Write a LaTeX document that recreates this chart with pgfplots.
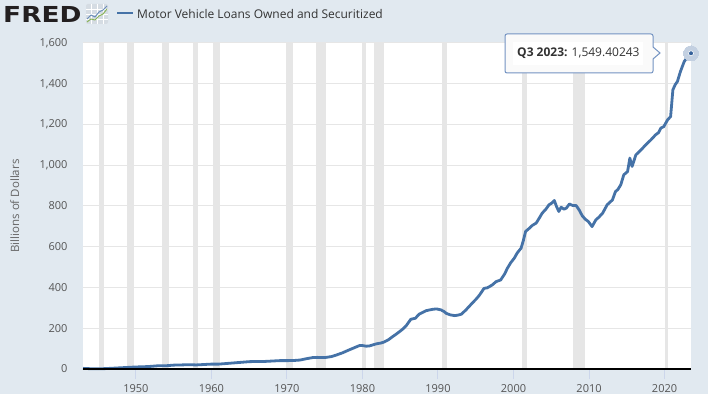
\documentclass[border=0pt]{standalone}
\usepackage{pgfplots}
\pgfplotsset{compat=1.18}
\usepackage{fontspec}
\setmainfont{Open Sans}
\newfontfamily\logofont{DejaVu Sans}
\definecolor{bgc}{HTML}{E1E9F0}
\definecolor{fredblue}{HTML}{4572A7}
\definecolor{recg}{HTML}{E6E6E6}
\definecolor{gridc}{HTML}{E6E6E6}
\definecolor{tickc}{HTML}{CCD6EB}
\definecolor{txt}{HTML}{333333}
\definecolor{lab}{HTML}{555555}
\definecolor{ylab}{HTML}{666666}
\definecolor{haloc}{HTML}{C3D0E1}
\definecolor{dotc}{HTML}{34609A}
\definecolor{tipb}{HTML}{7393C2}
\definecolor{logoc}{HTML}{231F20}
\definecolor{icong}{HTML}{8AB45A}
\definecolor{iconbg}{HTML}{D5DCE3}

\pgfplotstableread{
x y
1943.0 3
1944.0 1.5
1945.0 1
1946.0 2
1947.0 4
1948.0 6
1949.0 8
1950.0 10
1951.0 11
1952.0 13
1953.0 16
1954.0 16
1955.0 19
1956.0 20
1957.0 21
1958.0 20
1959.0 22
1960.0 24
1961.0 24
1962.0 27
1963.0 30
1964.0 33
1965.0 36
1966.0 37
1967.0 37
1968.0 39
1969.0 41
1970.0 41
1971.0 42
1971.75 44
1972.5 50
1973.4 56
1974.0 57
1975.0 56
1975.9 61
1976.5 68
1977.4 80
1978.0 90
1978.7 101
1979.6 115
1980.0 115
1980.5 112
1980.9 113
1981.8 123
1982.5 128
1982.9 133
1983.5 145
1984.0 159
1984.5 172
1984.9 183
1985.4 198
1985.8 213
1986.4 244
1987.0 249
1987.5 269
1988.0 278
1988.4 286
1988.9 290
1989.3 293
1989.8 295
1990.4 290
1990.8 282
1991.1 273
1991.6 266
1992.2 262
1992.6 264
1993.1 269
1993.7 290
1994.2 310
1994.6 326
1995.1 345
1995.5 363
1996.1 396
1996.5 398
1996.8 404
1997.2 413
1997.7 429
1998.3 437
1998.8 465
1999.2 495
1999.6 520
2000.1 544
2000.5 570
2001.0 593
2001.3 630
2001.6 675
2002.1 691
2002.5 705
2003.0 716
2003.4 740
2003.8 765
2004.3 785
2004.7 806
2005.1 815
2005.4 827
2005.7 797
2006.0 773
2006.3 794
2006.7 784
2007.0 790
2007.4 810
2007.8 803
2008.3 802
2008.7 780
2009.1 752
2009.5 735
2009.9 724
2010.4 699
2010.9 732
2011.3 745
2011.8 765
2012.4 806
2013.1 830
2013.5 871
2013.8 880
2014.2 904
2014.6 953
2015.1 969
2015.4 1035
2015.7 994
2016.2 1051
2016.9 1076
2017.5 1100
2018.2 1125
2018.8 1149
2019.2 1160
2019.5 1182
2019.9 1190
2020.4 1223
2020.8 1239
2021.1 1370
2021.4 1395
2021.7 1411
2022.1 1460
2022.6 1509
2023.0 1530
2023.5 1549.40243
}\mvdata

\begin{document}
\begin{tikzpicture}[x=1pt,y=1pt]
\fill[bgc] (0,0) rectangle (708,394);
\begin{axis}[
  at={(83pt,25pt)}, anchor=south west,
  scale only axis, width=608pt, height=326pt,
  xmin=1943, xmax=2023.5, ymin=0, ymax=1600,
  axis line style={draw=none},
  axis background/.style={fill=white},
  xtick={1950,1960,...,2020},
  ytick={0,200,...,1600},
  xtick pos=bottom, ytick pos=left,
  xtick align=outside,
  major tick length=10pt,
  xtick style={color=tickc, line width=1pt},
  ytick style={draw=none},
  ymajorgrids, grid style={gridc, line width=1pt},
  tick label style={font=\fontsize{11}{13}\selectfont, color=lab},
  /pgf/number format/assume math mode=true,
  /pgf/number format/1000 sep={,},
  x tick label style={/pgf/number format/1000 sep={}, yshift=-1.5pt},
  yticklabel style={anchor=east, xshift=-12pt},
  ylabel={Billions of Dollars},
  every axis y label/.style={at={(axis description cs:-0.112,0.5)}, rotate=90, anchor=center, font=\fontsize{11.5}{13}\selectfont, text=ylab},
  clip=false,
]
\addplot[fill=recg, draw=none, forget plot] coordinates {(1945.08,0) (1945.08,1600) (1945.75,1600) (1945.75,0)} -- cycle;
\addplot[fill=recg, draw=none, forget plot] coordinates {(1948.83,0) (1948.83,1600) (1949.75,1600) (1949.75,0)} -- cycle;
\addplot[fill=recg, draw=none, forget plot] coordinates {(1953.5,0) (1953.5,1600) (1954.33,1600) (1954.33,0)} -- cycle;
\addplot[fill=recg, draw=none, forget plot] coordinates {(1957.58,0) (1957.58,1600) (1958.25,1600) (1958.25,0)} -- cycle;
\addplot[fill=recg, draw=none, forget plot] coordinates {(1960.25,0) (1960.25,1600) (1961.08,1600) (1961.08,0)} -- cycle;
\addplot[fill=recg, draw=none, forget plot] coordinates {(1969.92,0) (1969.92,1600) (1970.83,1600) (1970.83,0)} -- cycle;
\addplot[fill=recg, draw=none, forget plot] coordinates {(1973.83,0) (1973.83,1600) (1975.17,1600) (1975.17,0)} -- cycle;
\addplot[fill=recg, draw=none, forget plot] coordinates {(1980.0,0) (1980.0,1600) (1980.5,1600) (1980.5,0)} -- cycle;
\addplot[fill=recg, draw=none, forget plot] coordinates {(1981.5,0) (1981.5,1600) (1982.83,1600) (1982.83,0)} -- cycle;
\addplot[fill=recg, draw=none, forget plot] coordinates {(1990.5,0) (1990.5,1600) (1991.17,1600) (1991.17,0)} -- cycle;
\addplot[fill=recg, draw=none, forget plot] coordinates {(2001.17,0) (2001.17,1600) (2001.83,1600) (2001.83,0)} -- cycle;
\addplot[fill=recg, draw=none, forget plot] coordinates {(2007.92,0) (2007.92,1600) (2009.42,1600) (2009.42,0)} -- cycle;
\addplot[fill=recg, draw=none, forget plot] coordinates {(2020.0,0) (2020.0,1600) (2020.4,1600) (2020.4,0)} -- cycle;
\addplot[fredblue, line width=2.8pt, line join=round] table[x=x,y=y] {\mvdata};
\draw[black, line width=2pt] (rel axis cs:0,0) -- (rel axis cs:1,0);
\addplot[only marks, mark=*, mark size=7.5pt, mark options={fill=haloc, draw=haloc, line width=0pt}] coordinates {(2023.5,1549.40243)};
\addplot[only marks, mark=*, mark size=2.5pt, mark options={fill=dotc, draw=white, line width=0.6pt}] coordinates {(2023.5,1549.40243)};
\end{axis}
% tooltip
\draw[tipb, line width=1pt, fill=white!96!gray] (507,360) -- (651,360) to[out=0,in=90] (653,358) -- (653,347) -- (660,341) -- (653,335) -- (653,323) to[out=-90,in=0] (651,321) -- (507,321) to[out=180,in=-90] (505,323) -- (505,358) to[out=90,in=180] (507,360) -- cycle;
\fill[white] (513,329) rectangle (643,351.5);
\node[anchor=base west, inner sep=0, font=\fontsize{12}{14}\selectfont, text=txt] at (517,337) {\textbf{Q3 2023:} 1,549.40243};
% header
\node[anchor=base west, inner sep=0, font=\logofont\bfseries\fontsize{22}{22}\selectfont, text=logoc, xscale=1.2] at (3,371) {FRED};
\fill[iconbg, rounded corners=2pt] (86,370) rectangle (108,390);
\draw[white, line width=0.4pt] (86,375)--(108,375) (86,380)--(108,380) (86,385)--(108,385) (91,370)--(91,390) (97,370)--(97,390) (103,370)--(103,390);
\draw[icong, line width=1pt, line join=round] (87,372)--(91,375)--(95,374)--(99,378)--(103,380)--(107,385);
\draw[fredblue!80, line width=1pt, line join=round] (87,375)--(91,379)--(95,377)--(99,382)--(103,384)--(107,388);
\draw[fredblue, line width=2pt] (117,380.5) -- (133,380.5);
\node[anchor=base west, inner sep=0, font=\fontsize{12}{14}\selectfont, text=txt] at (137,375.7) {Motor Vehicle Loans Owned and Securitized};
\end{tikzpicture}
\end{document}
